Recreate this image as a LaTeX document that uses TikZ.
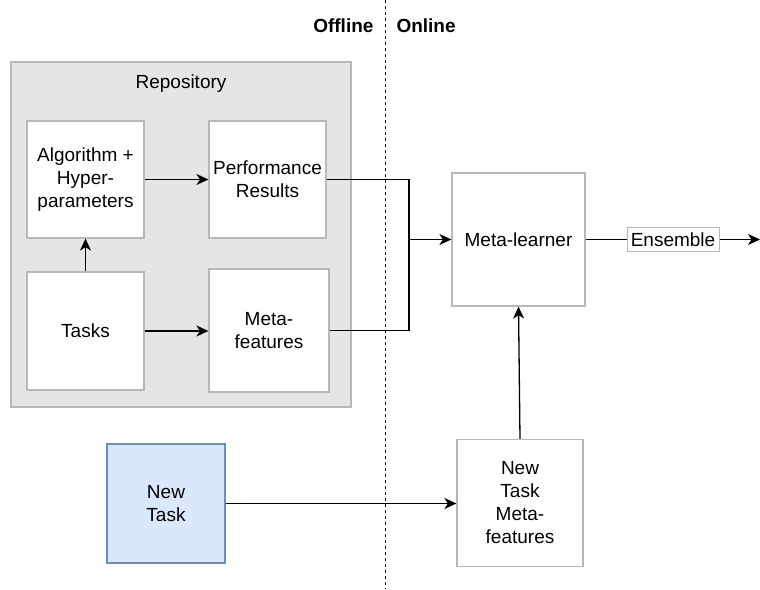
\documentclass[tikz,border=0pt]{standalone}
\usepackage{fontspec}
\setmainfont{Liberation Sans}
\usetikzlibrary{arrows.meta}
\definecolor{newfill}{RGB}{218,232,252}
\definecolor{newdraw}{RGB}{108,142,191}
\begin{document}
\begin{tikzpicture}[x=1pt,y=-1pt,
  font=\fontsize{19}{23}\selectfont,
  box/.style={draw=black!28,line width=1.2pt,fill=white,align=center,
    inner sep=2pt,minimum width=#1},
  conn/.style={line width=1.3pt},
  arr/.style={conn,-{Stealth[length=12pt,width=11pt,inset=3.5pt]}},
  phase/.style={font=\fontsize{19}{23}\selectfont\bfseries}]
\useasboundingbox (0,0) rectangle (760,589);
\fill[white] (0,0) rectangle (760,589);

% repository container
\node[draw=black!28,fill=black!10,line width=1.2pt,minimum width=340pt,
  minimum height=345pt] (repo) at (181,234.5) {};
\node (repolbl) at (181,84) {Repository};

% offline / online separator
\draw[line width=1pt,dash pattern=on 3pt off 3pt] (385,0) -- (385,589);
\node[phase,anchor=east] (offline) at (377,25.5) {Offline};
\node[phase,anchor=west] (online) at (393,25.5) {Online};

% repository contents
\node[box=117pt,minimum height=117pt] (algo) at (85.5,179.5) {Algorithm +\\Hyper-\\parameters};
\node[box=117pt,minimum height=117pt] (perf) at (267.5,179.5) {Performance\\Results};
\node[box=117pt,minimum height=118pt] (tasks) at (85.5,331) {Tasks};
\node[box=120pt,minimum height=123pt] (mf) at (269,330.5) {Meta-\\features};

% online part
\node[box=133pt,minimum height=133pt] (ml) at (518.5,239.5) {Meta-learner};
\node[draw=black!28,line width=1pt,fill=white,inner sep=1pt,
  minimum width=92pt,minimum height=24pt] (ens) at (673,239.5) {Ensemble};
\node[box=118pt,minimum height=119pt,fill=newfill,draw=newdraw] (newtask)
  at (166,503.5) {New\\Task};
\node[box=126pt,minimum height=127pt] (ntmf) at (520,503) {New\\Task\\Meta-\\features};

\coordinate (join) at (409,239.5);
\coordinate (out) at (760,239.5);

% connectors
\draw[arr] (algo) -- (perf);
\draw[arr] (tasks) -- (algo);
\draw[arr] (tasks) -- (tasks -| mf.west);
\draw[conn] (perf.east) -| (join);
\draw[conn] (mf.east) -| (join);
\draw[arr] (join) -- (ml.west);
\draw[conn] (ml.east) -- (ens.west);
\draw[arr] (ens.east) -- (out);
\draw[arr] (newtask.east) -- (newtask.east -| ntmf.west);
\draw[arr] (ntmf.north) -- (ml.south);
\end{tikzpicture}
\end{document}
